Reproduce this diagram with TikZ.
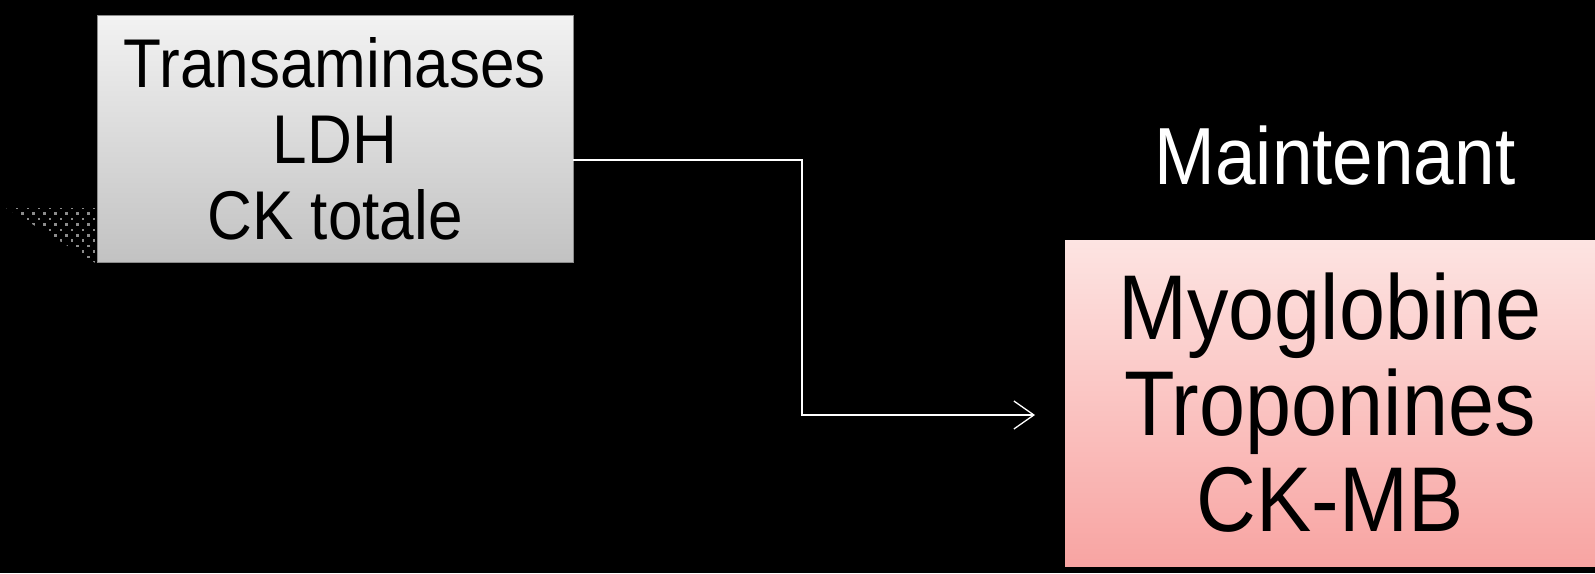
\documentclass[tikz,border=0pt]{standalone}
\usepackage{fontspec}
\setmainfont{Liberation Sans}[FakeStretch=0.9]
\usetikzlibrary{arrows.meta}
\begin{document}
\begin{tikzpicture}[x=1pt,y=-1pt,
  greybox/.style={draw=black!45, line width=0.8pt, top color=black!5, bottom color=black!24, minimum width=476pt, minimum height=247pt, inner sep=0pt, align=center, font=\fontsize{69}{76}\selectfont},
  pinkbox/.style={draw=none, top color={rgb,255:red,253;green,228;blue,226}, bottom color={rgb,255:red,248;green,164;blue,162}, minimum width=530pt, minimum height=326pt, inner sep=0pt, align=center, font=\fontsize{92}{96}\selectfont},
  link/.style={draw=white, line width=1.3pt, -{Straight Barb[length=20pt,width=28pt,line width=1.3pt]}},
  caption/.style={text=white, font=\fontsize{81}{84}\selectfont, inner sep=0pt}]
\fill[black] (0,0) rectangle (1595,573);
\useasboundingbox (0,0) rectangle (1595,573);
% dotted shadow
\begin{scope}
  \clip (6,208) -- (97,208) -- (97,264) -- cycle;
  \foreach \r in {0,...,11}{
    \foreach \c in {0,...,9}{
      \pgfmathsetmacro{\xx}{6+\c*11+mod(\r,2)*5.5}
      \pgfmathsetmacro{\yy}{208+\r*5.45}
      \fill[black!45] (\xx-1.3,\yy-1.3) rectangle (\xx+1.3,\yy+1.3);
    }
  }
\end{scope}
\node[greybox] (old) at (335,139) {Transaminases\\LDH\\CK totale};
\node[pinkbox] (new) at (1330,403) {Myoglobine\\Troponines\\CK-MB};
\node[caption] (lbl) at (1335,156) {Maintenant};
\coordinate (bend1) at (802,160);
\coordinate (tip) at (1035,415);
\draw[link] (old.east |- bend1) -- (bend1) |- (tip);
\end{tikzpicture}
\end{document}
